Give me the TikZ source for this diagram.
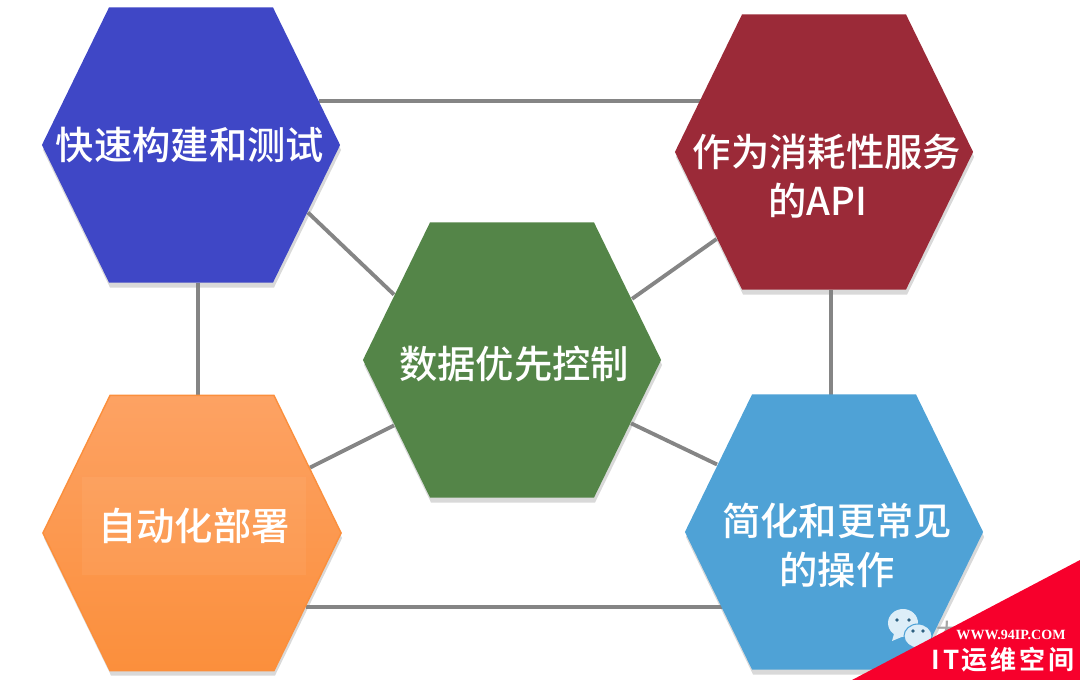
\documentclass[tikz,border=0pt]{standalone}
\usepackage{xcolor}
\usepackage{fontspec}
\setmainfont{Noto Sans CJK SC}[UprightFont=* Medium, BoldFont=* Bold]
\newfontfamily\latinserif{Liberation Serif}
\usetikzlibrary{shapes.symbols, shadows}
\pgfdeclarelayer{background}
\pgfdeclarelayer{foreground}
\pgfsetlayers{background,main,foreground}
\definecolor{hexblue}{HTML}{3F47C6}
\definecolor{hexred}{HTML}{9B2A38}
\definecolor{hexgreen}{HTML}{548548}
\definecolor{hexsky}{HTML}{4FA2D6}
\definecolor{hexorangetop}{HTML}{FDA263}
\definecolor{hexorangebot}{HTML}{FB8F3C}
\definecolor{linkgray}{HTML}{858585}
\definecolor{cornerred}{HTML}{F7002C}
\definecolor{bubble}{HTML}{DDEEF8}
\tikzstyle{hexagon}  = [shape=signal, signal to=west and east, signal pointer angle=128,
                        minimum width=2.98cm, minimum height=2.75cm, inner sep=0pt,
                        drop shadow={shadow xshift=.01cm, shadow yshift=-.05cm, opacity=.3}]
\tikzstyle{hextext}  = [text=white, font=\fontsize{10.9}{12}\selectfont, inner sep=0pt]
\tikzstyle{link}     = [linkgray, line width=1.1pt]
\begin{document}
\begin{tikzpicture}[x=.01cm,y=-.01cm]
  \useasboundingbox (0,0) rectangle (1080,680);

  % hexagons
  \node [hexagon, fill=hexblue]  (blue)   at (191,145) {};
  \node [hexagon, fill=hexred]   (red)    at (824,152) {};
  \node [hexagon, fill=hexgreen] (green)  at (512,360) {};
  \node [hexagon, top color=hexorangetop, bottom color=hexorangebot, draw=hexorangebot] (orange) at (192,533) {};
  \node [hexagon, fill=hexsky]   (sky)    at (834,532) {};

  % connectors
  \begin{pgfonlayer}{background}
    \draw [link] (blue.19.5)  -- (blue.19.5 -| red.center);
    \draw [link] (orange.-33.5) -- (orange.-33.5 -| sky.center);
    \draw [link] (blue.-87.5) -- (blue.-87.5 |- orange.center);
    \draw [link] (red.-87.5)  -- (red.-87.5 |- sky.center);
    \draw [link] (blue.-30)   -- (green.151);
    \draw [link] (red.219.6)  -- (green.27.3);
    \draw [link] (orange.29.6) -- (green.209);
    \draw [link] (sky.150.7)  -- (green.-28.4);
  \end{pgfonlayer}

  % labels
  \node [hextext] (txtblue)  at (190,145) {快速构建和测试};
  \node [hextext] (txtred)   at (827,152) {作为消耗性服务};
  \node [hextext] (txtred2)  at (818,201) {的API};
  \node [hextext] (txtgreen) at (514,364) {数据优先控制};
  \node [hextext, fill=white, fill opacity=.05, text opacity=1, minimum width=2.24cm, minimum height=.98cm] (txtorange) at (194,526) {自动化部署};
  \node [hextext] (txtsky)   at (837,521) {简化和更常见};
  \node [hextext] (txtsky2)  at (837,570) {的操作};

  % wechat mark
  \fill [bubble] (903,623) circle (15 and 14);
  \fill [bubble] (892,641) -- (895,630) -- (904,636) -- cycle;
  \fill [bubble, draw=hexsky, line width=.3pt] (918,636) circle (14 and 12);
  \foreach \px/\py in {897/620,909/620,913/631,923/631}
    \fill [hexsky!60!black] (\px,\py) circle (1.8);
  \node [text=gray!70, font=\fontsize{6.2}{6}\selectfont, inner sep=0pt] (marktext) at (947,631) {大};

  % corner banner
  \fill [cornerred] (1080,560) -- (1080,680) -- (852,680) -- cycle;
  \node [text=white, font=\fontsize{4}{4}\latinserif\bfseries, inner sep=0pt] (siteurl) at (1011,635) {WWW.94IP.COM};
  \node [text=white, font=\fontsize{7.4}{9}\selectfont\bfseries, inner sep=0pt] (sitename) at (1003,660)
    {I\hspace{1pt}T\hspace{.4pt}运\hspace{.8pt}维\hspace{.8pt}空\hspace{.8pt}间};
\end{tikzpicture}
\end{document}
